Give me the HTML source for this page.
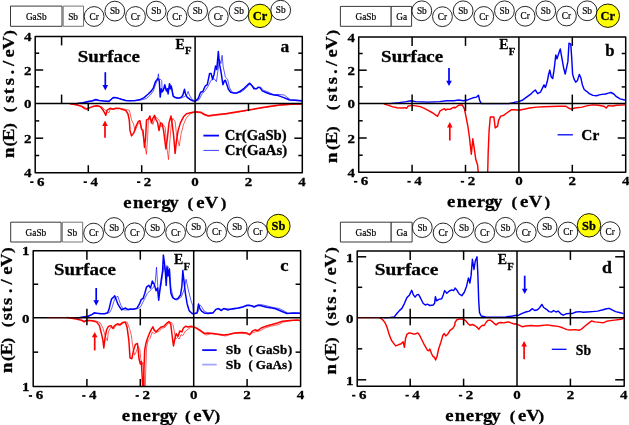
<!DOCTYPE html>
<html><head><meta charset="utf-8"><title>DOS</title>
<style>
html,body{margin:0;padding:0;background:#fff;}
body{width:629px;height:425px;overflow:hidden;font-family:"Liberation Serif",serif;}
svg{display:block;will-change:transform;}
</style></head><body>
<svg width="629" height="425" viewBox="0 0 629 425" font-family="Liberation Serif, serif" stroke-linejoin="round">
<clipPath id="clipa"><rect x="35.2" y="36.4" width="267.1" height="136.29999999999998"/></clipPath>
<g clip-path="url(#clipa)">
<path d="M77.5 103.5 L82.7 102.8 L88.0 101.6 L92.4 100.7 L95.9 99.5 L99.3 100.4 L103.7 101.1 L109.0 101.4 L111.6 99.0 L113.3 97.6 L117.7 98.1 L121.2 99.3 L125.6 100.4 L130.0 100.7 L135.2 100.4 L139.6 99.7 L140.0 99.7 L144.1 97.6 L148.3 94.0 L151.4 90.9 L153.4 87.8 L155.5 81.6 L156.8 80.0 L157.8 78.5 L158.6 79.5 L159.3 81.1 L160.2 97.1 L161.2 88.8 L162.2 91.9 L163.3 90.4 L164.8 84.7 L166.4 90.9 L167.4 88.8 L168.1 94.0 L169.5 83.7 L170.5 88.8 L171.0 86.2 L172.1 90.9 L173.1 96.1 L175.2 97.6 L178.3 98.1 L181.4 97.1 L182.9 95.0 L184.5 89.3 L185.5 94.0 L187.1 97.1 L189.7 99.2 L192.8 100.7 L194.3 101.2 L195.3 101.3 L198.3 98.3 L200.6 92.2 L202.8 91.5 L205.1 86.2 L207.3 84.7 L209.6 73.4 L211.1 73.4 L212.6 79.4 L214.1 74.2 L215.6 65.9 L216.8 69.6 L218.3 51.5 L219.4 63.6 L220.9 71.1 L222.9 84.7 L224.4 80.9 L225.4 80.2 L226.9 84.7 L228.4 89.2 L230.7 92.2 L233.7 93.0 L236.7 93.0 L239.8 91.5 L240.0 91.4 L244.1 88.3 L247.8 84.7 L249.8 83.2 L251.9 85.7 L254.0 88.8 L256.6 88.8 L258.1 87.3 L260.2 87.8 L262.3 90.9 L265.9 92.5 L270.0 94.0 L274.2 95.1 L278.3 95.6 L282.4 97.1 L286.6 98.7 L289.7 100.0 L294.9 100.2 L302.1 101.1" fill="none" stroke="#0000ff" stroke-width="1.5" stroke-linejoin="round" stroke-linecap="round"/>
<path d="M77.5 103.5 L88.0 102.1 L95.0 100.4 L102.0 100.7 L109.0 101.1 L112.5 98.1 L115.1 97.2 L119.5 98.6 L126.5 100.7 L135.2 100.7 L139.6 100.2 L140.0 100.2 L146.2 98.7 L150.3 95.0 L153.4 90.9 L155.5 84.7 L157.6 79.5 L158.4 73.8 L159.1 79.5 L160.7 79.5 L161.7 80.6 L162.2 90.9 L163.6 88.8 L165.3 87.8 L166.9 91.9 L168.4 90.9 L170.0 84.7 L171.6 85.7 L173.1 95.0 L175.7 98.1 L179.3 98.7 L182.4 97.6 L185.5 96.1 L187.1 94.0 L188.1 91.4 L189.4 95.0 L191.2 98.1 L193.8 100.4 L194.8 101.2 L195.3 101.3 L199.0 99.8 L202.1 93.8 L205.1 90.7 L208.1 86.2 L211.1 80.2 L214.1 78.7 L216.4 81.7 L217.9 71.1 L219.4 59.1 L220.9 63.6 L222.1 55.3 L223.2 66.6 L225.4 77.2 L227.7 79.4 L229.5 87.7 L232.2 92.2 L235.2 93.4 L239.8 92.2 L240.0 92.5 L244.1 89.9 L248.3 85.7 L250.4 83.7 L253.5 86.3 L255.5 88.8 L258.6 87.3 L260.7 87.3 L263.8 90.4 L268.0 92.0 L273.1 94.5 L279.3 94.5 L284.5 95.1 L287.6 97.6 L290.7 99.7 L302.1 100.4" fill="none" stroke="#0000ff" stroke-width="0.65" stroke-linejoin="round" stroke-linecap="round"/>
<path d="M70.2 103.8 L76.5 104.8 L81.6 106.4 L84.8 108.6 L86.7 109.2 L89.3 107.9 L93.1 106.4 L96.9 105.7 L100.1 106.6 L102.6 109.5 L104.5 112.7 L105.8 115.3 L107.1 110.2 L110.2 108.3 L113.4 109.2 L116.0 108.3 L119.8 108.6 L123.6 109.9 L126.1 110.8 L128.0 114.0 L129.3 120.3 L130.0 130.6 L131.5 135.9 L133.8 132.9 L136.1 126.0 L138.4 121.4 L139.9 120.6 L141.5 129.0 L143.0 130.6 L144.5 147.4 L145.6 138.2 L146.5 119.9 L148.3 119.1 L149.9 116.0 L151.4 122.9 L152.9 118.3 L154.5 115.3 L156.0 119.9 L157.5 122.2 L159.0 130.6 L160.6 122.9 L162.1 123.7 L163.6 130.6 L165.9 148.9 L167.4 138.2 L169.0 122.9 L171.0 116.0 L172.0 122.9 L173.6 135.2 L175.1 153.5 L176.6 139.7 L178.1 130.6 L180.4 122.9 L183.5 116.8 L186.5 113.8 L189.6 113.0 L192.7 112.2 L194.2 112.1 L195.5 111.7 L201.0 112.3 L204.6 114.5 L208.3 115.7 L215.6 114.8 L226.6 113.5 L237.5 111.7 L248.5 109.9 L259.5 108.1 L270.4 106.2 L279.6 104.9 L290.5 104.2 L301.5 104.0" fill="none" stroke="#ff0000" stroke-width="1.5" stroke-linejoin="round" stroke-linecap="round"/>
<path d="M70.2 103.8 L82.9 106.4 L86.1 108.3 L88.6 108.3 L93.1 106.4 L98.2 105.7 L102.0 107.0 L104.5 109.5 L107.7 112.1 L109.0 112.7 L110.2 109.5 L114.7 108.3 L121.0 108.3 L126.1 109.5 L129.3 110.2 L130.0 113.0 L131.5 119.9 L133.1 122.9 L135.3 130.6 L137.6 124.5 L139.9 122.9 L142.2 130.6 L144.5 142.8 L146.4 154.3 L147.6 138.2 L148.3 119.9 L150.6 118.3 L152.9 124.5 L155.2 116.8 L157.5 118.3 L159.8 121.4 L161.3 126.7 L162.9 124.5 L165.2 127.5 L166.7 145.9 L168.5 159.6 L170.0 139.7 L171.3 124.5 L172.8 118.3 L175.1 121.4 L176.6 135.2 L179.2 145.9 L181.2 133.6 L183.5 124.5 L186.5 117.6 L190.4 113.8 L194.2 112.4 L195.5 112.3 L201.0 113.0 L204.6 115.2 L208.3 116.3 L215.6 115.4 L226.6 114.1 L237.5 112.3 L248.5 110.2 L259.5 108.4 L270.4 106.8 L279.6 105.3 L290.5 104.6 L301.5 104.2" fill="none" stroke="#ff0000" stroke-width="0.65" stroke-linejoin="round" stroke-linecap="round"/>
</g>
<clipPath id="clipb"><rect x="358.7" y="36.9" width="267.00000000000006" height="135.4"/></clipPath>
<g clip-path="url(#clipb)">
<path d="M389.5 103.6 L399.1 102.6 L406.2 101.6 L411.0 100.7 L415.8 101.6 L427.7 102.1 L439.6 101.6 L446.8 100.7 L453.9 100.7 L458.7 100.0 L463.5 100.7 L468.2 99.7 L473.0 97.8 L476.6 97.1 L478.5 95.2 L479.7 100.7 L481.4 103.6 L508.8 103.6 L513.6 102.8 L515.0 102.1 L518.6 101.6 L522.2 100.3 L525.9 97.6 L530.4 94.4 L533.1 91.8 L535.3 90.0 L537.7 93.6 L540.4 92.2 L542.2 88.6 L544.0 84.9 L545.4 87.6 L547.3 81.3 L548.5 75.0 L549.8 70.1 L551.2 76.8 L552.7 78.6 L554.0 70.4 L555.8 55.0 L557.0 58.7 L558.5 54.1 L560.3 49.0 L561.8 57.7 L563.6 67.7 L565.2 74.1 L566.6 67.7 L567.9 61.4 L569.0 43.2 L570.8 44.2 L571.7 57.7 L572.6 74.1 L573.9 78.6 L575.7 82.2 L577.5 80.4 L579.3 74.4 L580.8 77.7 L582.4 84.9 L584.2 89.5 L586.6 91.3 L589.3 93.6 L592.9 95.4 L596.6 95.8 L599.3 94.9 L602.0 94.4 L605.6 94.0 L608.3 93.1 L611.0 92.5 L613.8 94.0 L616.5 96.7 L620.1 98.9 L623.7 99.8 L626.3 100.3" fill="none" stroke="#0000ff" stroke-width="1.45" stroke-linejoin="round" stroke-linecap="round"/>
<path d="M384.3 104.0 L388.6 105.4 L392.9 106.9 L397.2 107.7 L401.5 108.0 L405.0 107.7 L406.5 108.3 L407.9 106.3 L411.5 105.4 L415.8 105.9 L420.1 106.6 L424.4 108.3 L428.6 110.6 L432.9 113.0 L435.8 115.2 L437.5 116.3 L438.9 113.5 L440.1 110.9 L443.0 109.4 L444.4 108.7 L445.8 110.2 L447.2 109.2 L450.1 109.4 L453.0 107.7 L454.4 107.2 L455.0 108.0 L458.6 105.2 L462.2 104.9 L464.4 108.9 L465.9 116.1 L468.0 127.0 L469.5 137.9 L471.3 154.2 L472.8 138.8 L474.0 146.9 L475.8 159.6 L477.6 165.0 L478.6 175.9 L487.6 175.9 L488.2 152.3 L489.1 130.6 L490.3 117.0 L493.9 117.0 L495.2 127.9 L497.6 126.1 L498.5 120.6 L500.7 116.1 L503.9 115.2 L507.5 112.5 L511.2 109.8 L514.8 109.8 L515.0 109.8 L518.6 110.3 L524.1 109.2 L529.5 108.0 L536.7 107.1 L544.0 106.7 L551.2 106.5 L558.5 106.3 L565.7 106.2 L568.5 108.0 L571.2 109.2 L574.8 108.0 L582.1 107.1 L587.5 105.6 L592.9 104.9 L598.4 105.2 L603.8 106.2 L606.2 108.0 L608.3 105.6 L612.9 106.0 L616.5 105.2 L625.5 104.9" fill="none" stroke="#ff0000" stroke-width="1.45" stroke-linejoin="round" stroke-linecap="round"/>
</g>
<clipPath id="clipc"><rect x="33.2" y="250.7" width="267.40000000000003" height="135.8"/></clipPath>
<g clip-path="url(#clipc)">
<path d="M77.8 317.9 L82.9 316.9 L88.0 316.2 L91.8 314.6 L94.3 312.8 L96.9 313.3 L100.7 313.7 L104.5 313.7 L107.7 312.8 L109.0 309.3 L110.2 304.2 L111.5 299.1 L113.4 297.2 L114.7 295.9 L116.0 299.1 L117.9 304.2 L119.8 307.3 L121.7 309.9 L123.6 308.6 L125.5 308.0 L127.4 309.3 L129.3 309.5 L130.0 308.9 L133.5 309.3 L137.0 308.1 L139.6 303.7 L141.3 299.4 L143.1 298.5 L144.8 293.3 L146.5 287.2 L148.8 285.4 L150.5 288.0 L152.3 281.1 L154.4 284.6 L156.1 290.7 L157.5 288.0 L158.7 300.2 L159.9 289.8 L161.3 279.3 L162.6 270.6 L163.4 255.0 L164.5 263.7 L165.3 270.6 L166.2 285.4 L167.1 267.2 L168.0 275.9 L169.2 268.9 L170.0 282.8 L170.9 293.3 L172.7 297.6 L175.3 299.4 L177.9 298.5 L180.5 295.0 L181.9 286.3 L182.8 270.6 L184.0 281.1 L185.4 293.3 L187.1 303.7 L189.2 310.7 L191.8 313.3 L193.0 313.8 L193.6 313.8 L197.1 312.9 L198.5 304.0 L199.8 308.5 L201.6 311.1 L204.2 312.9 L207.8 313.5 L213.1 312.9 L215.8 309.4 L218.5 308.5 L221.2 310.6 L223.8 308.5 L227.4 309.9 L232.7 308.8 L238.1 308.1 L243.4 306.7 L247.0 305.3 L251.4 305.8 L254.1 307.0 L257.7 305.3 L261.2 305.8 L264.8 306.7 L268.3 307.6 L271.9 308.1 L275.5 308.8 L279.0 310.2 L282.6 311.7 L287.0 313.5 L293.3 313.1 L299.5 313.3" fill="none" stroke="#0000ff" stroke-width="1.5" stroke-linejoin="round" stroke-linecap="round"/>
<path d="M77.8 317.9 L88.0 316.6 L93.1 313.7 L98.2 313.3 L105.8 313.7 L109.6 312.4 L111.5 309.3 L113.4 302.9 L115.3 297.8 L117.9 296.3 L119.1 300.3 L121.0 305.4 L123.6 309.9 L128.7 309.9 L130.0 309.3 L137.0 308.9 L140.4 307.2 L143.9 300.2 L147.4 293.3 L150.9 289.8 L153.5 287.2 L155.2 282.8 L156.5 267.2 L157.5 282.8 L158.7 295.0 L160.5 288.0 L162.2 277.6 L164.0 265.4 L165.7 274.1 L166.9 265.4 L168.3 267.2 L169.7 268.9 L170.9 288.0 L173.5 298.5 L177.0 300.2 L181.4 296.8 L184.0 289.8 L186.1 279.3 L188.3 289.8 L190.9 300.2 L192.7 305.5 L193.4 312.4 L193.9 313.8 L198.0 312.0 L199.8 304.9 L201.6 306.7 L204.2 311.1 L207.8 312.9 L213.1 312.4 L217.6 308.8 L222.1 309.4 L225.6 308.5 L232.7 309.4 L241.6 307.6 L248.8 304.9 L254.1 306.3 L260.3 304.5 L266.6 305.8 L273.7 307.6 L279.0 308.5 L284.4 311.1 L287.9 313.3 L299.5 312.9" fill="none" stroke="#0000ff" stroke-width="0.65" stroke-linejoin="round" stroke-linecap="round"/>
<path d="M67.2 317.6 L76.1 319.0 L81.5 320.3 L84.2 321.5 L86.8 320.3 L92.2 320.8 L96.7 322.1 L99.4 325.6 L101.5 333.7 L103.0 340.8 L103.8 348.0 L105.1 337.3 L106.5 330.1 L108.3 326.5 L111.0 325.6 L112.8 328.3 L114.6 325.6 L117.3 323.8 L120.0 324.7 L122.6 322.6 L125.3 322.1 L127.1 327.4 L128.9 340.8 L130.0 357.9 L131.8 358.8 L133.6 349.8 L135.4 344.4 L137.5 343.5 L139.0 358.8 L140.4 364.1 L141.3 361.4 L142.2 376.7 L142.9 391.0 L143.4 391.0 L144.0 367.7 L144.7 349.8 L146.1 342.6 L147.9 337.3 L149.7 332.8 L151.5 329.2 L152.9 326.9 L154.2 330.1 L156.0 331.9 L158.6 329.2 L161.3 326.9 L164.0 326.2 L166.7 323.3 L169.0 321.5 L170.8 324.7 L172.1 335.5 L173.5 345.9 L174.8 339.1 L176.2 333.7 L178.0 336.4 L179.8 331.0 L181.9 331.9 L183.3 328.3 L185.5 326.2 L188.2 326.9 L190.9 326.2 L192.7 326.7 L193.6 326.6 L197.1 328.4 L200.7 330.7 L204.2 333.4 L207.8 333.0 L213.1 333.4 L218.5 334.3 L223.8 335.1 L229.2 334.3 L234.5 333.0 L241.6 332.5 L247.0 333.0 L249.7 334.8 L252.3 331.2 L255.0 329.8 L257.7 330.7 L261.2 328.0 L266.6 325.9 L271.9 324.5 L277.3 323.0 L282.6 321.3 L289.7 320.5 L296.8 320.0 L299.5 320.5" fill="none" stroke="#ff0000" stroke-width="1.5" stroke-linejoin="round" stroke-linecap="round"/>
<path d="M81.5 319.9 L83.8 322.6 L86.0 320.8 L95.8 320.8 L100.3 322.9 L103.0 328.3 L105.6 337.3 L107.4 340.8 L108.3 331.9 L111.0 326.9 L113.7 329.2 L116.4 324.7 L120.0 325.6 L123.5 322.9 L127.1 322.1 L129.4 328.3 L130.0 330.1 L131.4 335.5 L132.7 346.2 L134.5 355.2 L136.3 351.6 L138.1 346.2 L139.8 349.8 L141.6 365.9 L142.9 362.3 L144.3 382.0 L145.2 391.0 L145.8 367.7 L146.5 348.0 L147.9 340.9 L150.1 338.2 L152.4 331.9 L154.2 333.7 L156.9 331.9 L159.5 331.0 L161.9 328.3 L164.9 327.4 L168.5 323.0 L171.2 322.1 L173.0 324.7 L174.4 331.9 L175.6 339.1 L177.4 337.3 L179.2 339.1 L181.0 334.6 L182.8 335.5 L185.5 331.0 L188.2 329.2 L190.9 327.4 L192.7 326.7 L193.6 327.7 L195.3 328.0 L200.7 331.6 L206.0 335.1 L211.4 333.7 L218.5 334.8 L225.6 336.0 L232.7 333.7 L241.6 333.0 L248.8 334.3 L251.4 333.4 L255.9 331.6 L260.3 330.7 L264.8 328.0 L271.9 325.9 L279.0 324.5 L282.6 322.3 L289.7 320.9 L299.5 320.0" fill="none" stroke="#ff0000" stroke-width="0.65" stroke-linejoin="round" stroke-linecap="round"/>
</g>
<clipPath id="clipd"><rect x="357.2" y="250.9" width="267.00000000000006" height="135.29999999999998"/></clipPath>
<g clip-path="url(#clipd)">
<path d="M385.0 317.7 L390.1 317.4 L394.3 316.9 L396.9 313.5 L399.4 310.6 L401.9 308.4 L404.5 303.3 L407.0 297.4 L409.5 294.9 L411.7 290.3 L413.4 294.9 L415.1 297.1 L416.8 294.9 L418.5 294.4 L420.6 298.2 L423.1 303.3 L425.3 305.0 L427.3 304.2 L429.9 305.5 L433.2 305.0 L434.6 303.3 L435.4 296.6 L436.6 300.8 L438.8 299.4 L441.7 298.8 L443.4 294.4 L444.6 290.6 L446.8 293.2 L449.3 291.0 L451.9 289.8 L453.6 290.6 L454.9 288.6 L455.0 288.1 L456.7 289.8 L459.2 294.0 L461.8 295.7 L464.3 292.3 L466.5 286.4 L468.5 277.9 L469.9 283.0 L471.1 275.4 L472.4 259.3 L474.0 269.5 L475.3 261.0 L477.0 256.8 L477.9 275.4 L478.7 300.8 L479.5 312.6 L481.2 316.0 L485.5 317.0 L497.3 317.2 L505.8 316.9 L512.6 316.0 L515.1 315.5 L518.6 315.2 L522.2 313.4 L525.8 312.0 L529.4 311.1 L532.1 308.7 L534.8 310.5 L537.5 309.8 L539.8 307.5 L541.9 304.4 L543.7 307.5 L546.4 309.3 L549.1 311.6 L551.8 312.0 L553.6 310.5 L556.0 312.0 L558.1 311.1 L560.8 313.8 L563.1 315.2 L566.2 313.8 L569.8 313.4 L572.5 313.4 L576.1 312.0 L579.7 311.6 L583.3 312.3 L586.9 312.0 L592.3 311.6 L597.6 311.1 L603.0 309.8 L606.6 308.7 L609.3 308.4 L612.0 309.8 L615.6 311.6 L619.2 312.5 L622.8 313.4" fill="none" stroke="#0000ff" stroke-width="1.45" stroke-linejoin="round" stroke-linecap="round"/>
<path d="M379.8 317.8 L382.5 319.5 L385.0 322.6 L387.1 327.5 L389.2 334.6 L391.4 340.2 L393.5 343.1 L395.6 345.9 L398.4 344.8 L401.2 343.8 L403.1 341.7 L404.4 347.3 L405.5 338.8 L406.9 334.3 L409.0 332.9 L411.1 333.2 L413.2 333.9 L415.4 333.9 L417.8 332.9 L419.6 335.3 L421.7 339.5 L424.5 345.2 L427.4 350.1 L428.8 350.8 L429.9 349.0 L431.6 353.7 L433.0 356.5 L434.4 357.2 L435.6 360.0 L437.0 356.5 L438.7 348.7 L440.8 342.4 L442.9 335.3 L444.3 333.5 L445.7 336.0 L447.9 333.9 L450.0 330.4 L452.1 328.9 L453.5 327.5 L454.9 324.7 L455.0 322.5 L456.8 319.8 L459.8 318.9 L463.3 319.3 L465.7 320.7 L468.1 323.7 L469.9 325.3 L472.3 324.5 L474.7 325.5 L477.1 327.3 L478.8 329.3 L480.6 326.7 L482.4 325.3 L484.2 325.5 L486.0 322.5 L487.8 320.5 L490.2 320.1 L492.0 321.3 L493.8 323.1 L496.1 324.9 L498.5 322.9 L500.9 322.5 L503.9 322.9 L506.3 322.2 L508.7 321.9 L511.0 322.9 L513.4 323.7 L514.6 324.0 L515.0 323.7 L518.6 324.9 L522.2 326.7 L525.8 326.0 L531.2 325.5 L536.6 326.0 L541.9 325.5 L547.3 324.9 L552.7 325.7 L558.1 326.4 L562.6 327.8 L567.1 329.6 L570.7 330.0 L575.2 329.6 L578.8 330.3 L581.5 329.1 L585.1 326.0 L588.7 323.1 L591.4 321.0 L594.9 321.9 L599.4 322.4 L603.0 322.8 L606.6 321.3 L610.2 320.6 L614.7 320.1 L619.2 319.5 L622.8 318.8" fill="none" stroke="#ff0000" stroke-width="1.45" stroke-linejoin="round" stroke-linecap="round"/>
</g>
<rect x="35.20" y="36.40" width="267.10" height="136.30" fill="none" stroke="#000" stroke-width="1.5"/>
<line x1="35.20" y1="103.60" x2="302.30" y2="103.60" stroke="#000" stroke-width="1.5"/>
<line x1="195.10" y1="36.40" x2="195.10" y2="172.70" stroke="#000" stroke-width="1.5"/>
<line x1="88.30" y1="172.70" x2="88.30" y2="165.20" stroke="#000" stroke-width="1.5"/>
<line x1="88.30" y1="103.60" x2="88.30" y2="111.10" stroke="#000" stroke-width="1.5"/>
<line x1="141.70" y1="172.70" x2="141.70" y2="165.20" stroke="#000" stroke-width="1.5"/>
<line x1="141.70" y1="103.60" x2="141.70" y2="111.10" stroke="#000" stroke-width="1.5"/>
<line x1="248.50" y1="172.70" x2="248.50" y2="165.20" stroke="#000" stroke-width="1.5"/>
<line x1="248.50" y1="103.60" x2="248.50" y2="111.10" stroke="#000" stroke-width="1.5"/>
<line x1="61.60" y1="36.40" x2="61.60" y2="45.40" stroke="#000" stroke-width="1.5"/>
<line x1="61.60" y1="103.60" x2="61.60" y2="94.60" stroke="#000" stroke-width="1.5"/>
<line x1="35.20" y1="86.80" x2="39.20" y2="86.80" stroke="#000" stroke-width="1.5"/>
<line x1="302.30" y1="86.80" x2="298.30" y2="86.80" stroke="#000" stroke-width="1.5"/>
<line x1="35.20" y1="120.90" x2="39.20" y2="120.90" stroke="#000" stroke-width="1.5"/>
<line x1="302.30" y1="120.90" x2="298.30" y2="120.90" stroke="#000" stroke-width="1.5"/>
<line x1="35.20" y1="70.00" x2="43.20" y2="70.00" stroke="#000" stroke-width="1.5"/>
<line x1="302.30" y1="70.00" x2="294.30" y2="70.00" stroke="#000" stroke-width="1.5"/>
<line x1="35.20" y1="138.20" x2="43.20" y2="138.20" stroke="#000" stroke-width="1.5"/>
<line x1="302.30" y1="138.20" x2="294.30" y2="138.20" stroke="#000" stroke-width="1.5"/>
<line x1="35.20" y1="53.20" x2="39.20" y2="53.20" stroke="#000" stroke-width="1.5"/>
<line x1="302.30" y1="53.20" x2="298.30" y2="53.20" stroke="#000" stroke-width="1.5"/>
<line x1="35.20" y1="155.50" x2="39.20" y2="155.50" stroke="#000" stroke-width="1.5"/>
<line x1="302.30" y1="155.50" x2="298.30" y2="155.50" stroke="#000" stroke-width="1.5"/>
<text transform="translate(40.80,185.60) scale(1.12,1)" font-size="13.4" font-weight="bold" text-anchor="middle" stroke="#000" stroke-width="0.3">6</text>
<rect x="30.20" y="181.30" width="3.3" height="1.7" fill="#000"/>
<text transform="translate(94.20,185.60) scale(1.12,1)" font-size="13.4" font-weight="bold" text-anchor="middle" stroke="#000" stroke-width="0.3">4</text>
<rect x="83.60" y="181.30" width="3.3" height="1.7" fill="#000"/>
<text transform="translate(147.60,185.60) scale(1.12,1)" font-size="13.4" font-weight="bold" text-anchor="middle" stroke="#000" stroke-width="0.3">2</text>
<rect x="137.00" y="181.30" width="3.3" height="1.7" fill="#000"/>
<text transform="translate(195.10,185.60) scale(1.12,1)" font-size="13.4" font-weight="bold" text-anchor="middle" stroke="#000" stroke-width="0.3">0</text>
<text transform="translate(248.50,185.60) scale(1.12,1)" font-size="13.4" font-weight="bold" text-anchor="middle" stroke="#000" stroke-width="0.3">2</text>
<text transform="translate(301.90,185.60) scale(1.12,1)" font-size="13.4" font-weight="bold" text-anchor="middle" stroke="#000" stroke-width="0.3">4</text>
<text transform="translate(27.70,41.10) scale(1.12,1)" font-size="13.4" font-weight="bold" text-anchor="middle" stroke="#000" stroke-width="0.3">4</text>
<text transform="translate(27.70,74.70) scale(1.12,1)" font-size="13.4" font-weight="bold" text-anchor="middle" stroke="#000" stroke-width="0.3">2</text>
<text transform="translate(27.70,108.30) scale(1.12,1)" font-size="13.4" font-weight="bold" text-anchor="middle" stroke="#000" stroke-width="0.3">0</text>
<text transform="translate(27.70,142.90) scale(1.12,1)" font-size="13.4" font-weight="bold" text-anchor="middle" stroke="#000" stroke-width="0.3">2</text>
<text transform="translate(27.70,177.40) scale(1.12,1)" font-size="13.4" font-weight="bold" text-anchor="middle" stroke="#000" stroke-width="0.3">4</text>
<text transform="translate(127.40,207.60) scale(1.1,1)" font-size="17.0" font-weight="bold" text-anchor="middle" stroke="#000" stroke-width="0.3">e</text>
<text transform="translate(138.10,207.60) scale(1.1,1)" font-size="17.0" font-weight="bold" text-anchor="middle" stroke="#000" stroke-width="0.3">n</text>
<text transform="translate(148.10,207.60) scale(1.1,1)" font-size="17.0" font-weight="bold" text-anchor="middle" stroke="#000" stroke-width="0.3">e</text>
<text transform="translate(157.00,207.60) scale(1.1,1)" font-size="17.0" font-weight="bold" text-anchor="middle" stroke="#000" stroke-width="0.3">r</text>
<text transform="translate(165.90,207.60) scale(1.1,1)" font-size="17.0" font-weight="bold" text-anchor="middle" stroke="#000" stroke-width="0.3">g</text>
<text transform="translate(174.00,207.60) scale(1.1,1)" font-size="17.0" font-weight="bold" text-anchor="middle" stroke="#000" stroke-width="0.3">y</text>
<text transform="translate(190.40,207.60) scale(1.1,1)" font-size="15.4" font-weight="bold" text-anchor="middle" stroke="#000" stroke-width="0.3">(</text>
<text transform="translate(200.40,207.60) scale(1.1,1)" font-size="17.0" font-weight="bold" text-anchor="middle" stroke="#000" stroke-width="0.3">e</text>
<text transform="translate(211.60,207.60) scale(1.1,1)" font-size="17.0" font-weight="bold" text-anchor="middle" stroke="#000" stroke-width="0.3">V</text>
<text transform="translate(223.60,207.60) scale(1.1,1)" font-size="15.4" font-weight="bold" text-anchor="middle" stroke="#000" stroke-width="0.3">)</text>
<text transform="translate(13.90,152.90) rotate(-90) scale(1.1,1)" font-size="17.0" font-weight="bold" text-anchor="middle" stroke="#000" stroke-width="0.3">n</text>
<text transform="translate(13.90,143.70) rotate(-90) scale(1.1,1)" font-size="15.4" font-weight="bold" text-anchor="middle" stroke="#000" stroke-width="0.3">(</text>
<text transform="translate(13.90,134.70) rotate(-90) scale(1.1,1)" font-size="17.0" font-weight="bold" text-anchor="middle" stroke="#000" stroke-width="0.3">E</text>
<text transform="translate(13.90,126.00) rotate(-90) scale(1.1,1)" font-size="15.4" font-weight="bold" text-anchor="middle" stroke="#000" stroke-width="0.3">)</text>
<text transform="translate(13.90,109.50) rotate(-90) scale(1.1,1)" font-size="15.4" font-weight="bold" text-anchor="middle" stroke="#000" stroke-width="0.3">(</text>
<text transform="translate(13.90,99.20) rotate(-90) scale(1.1,1)" font-size="17.0" font-weight="bold" text-anchor="middle" stroke="#000" stroke-width="0.3">s</text>
<text transform="translate(13.90,91.20) rotate(-90) scale(1.1,1)" font-size="17.0" font-weight="bold" text-anchor="middle" stroke="#000" stroke-width="0.3">t</text>
<text transform="translate(13.90,81.50) rotate(-90) scale(1.1,1)" font-size="17.0" font-weight="bold" text-anchor="middle" stroke="#000" stroke-width="0.3">s</text>
<text transform="translate(13.90,72.10) rotate(-90) scale(1.1,1)" font-size="17.0" font-weight="bold" text-anchor="middle" stroke="#000" stroke-width="0.3">.</text>
<text transform="translate(13.90,63.40) rotate(-90) scale(1.1,1)" font-size="17.0" font-weight="bold" text-anchor="middle" stroke="#000" stroke-width="0.3">/</text>
<text transform="translate(13.90,53.30) rotate(-90) scale(1.1,1)" font-size="17.0" font-weight="bold" text-anchor="middle" stroke="#000" stroke-width="0.3">e</text>
<text transform="translate(13.90,43.00) rotate(-90) scale(1.1,1)" font-size="17.0" font-weight="bold" text-anchor="middle" stroke="#000" stroke-width="0.3">V</text>
<text transform="translate(13.90,33.00) rotate(-90) scale(1.1,1)" font-size="15.4" font-weight="bold" text-anchor="middle" stroke="#000" stroke-width="0.3">)</text>
<rect x="358.70" y="36.90" width="267.00" height="135.40" fill="none" stroke="#000" stroke-width="1.5"/>
<line x1="358.70" y1="103.60" x2="625.70" y2="103.60" stroke="#000" stroke-width="1.5"/>
<line x1="518.90" y1="36.90" x2="518.90" y2="172.30" stroke="#000" stroke-width="1.5"/>
<line x1="412.10" y1="172.30" x2="412.10" y2="164.80" stroke="#000" stroke-width="1.5"/>
<line x1="412.10" y1="103.60" x2="412.10" y2="111.10" stroke="#000" stroke-width="1.5"/>
<line x1="465.50" y1="172.30" x2="465.50" y2="164.80" stroke="#000" stroke-width="1.5"/>
<line x1="465.50" y1="103.60" x2="465.50" y2="111.10" stroke="#000" stroke-width="1.5"/>
<line x1="572.30" y1="172.30" x2="572.30" y2="164.80" stroke="#000" stroke-width="1.5"/>
<line x1="572.30" y1="103.60" x2="572.30" y2="111.10" stroke="#000" stroke-width="1.5"/>
<line x1="412.10" y1="36.90" x2="412.10" y2="45.90" stroke="#000" stroke-width="1.5"/>
<line x1="412.10" y1="103.60" x2="412.10" y2="94.60" stroke="#000" stroke-width="1.5"/>
<line x1="465.50" y1="36.90" x2="465.50" y2="45.90" stroke="#000" stroke-width="1.5"/>
<line x1="465.50" y1="103.60" x2="465.50" y2="94.60" stroke="#000" stroke-width="1.5"/>
<line x1="572.30" y1="36.90" x2="572.30" y2="45.90" stroke="#000" stroke-width="1.5"/>
<line x1="572.30" y1="103.60" x2="572.30" y2="94.60" stroke="#000" stroke-width="1.5"/>
<line x1="358.70" y1="86.90" x2="362.70" y2="86.90" stroke="#000" stroke-width="1.5"/>
<line x1="625.70" y1="86.90" x2="621.70" y2="86.90" stroke="#000" stroke-width="1.5"/>
<line x1="358.70" y1="120.80" x2="362.70" y2="120.80" stroke="#000" stroke-width="1.5"/>
<line x1="625.70" y1="120.80" x2="621.70" y2="120.80" stroke="#000" stroke-width="1.5"/>
<line x1="358.70" y1="70.20" x2="366.70" y2="70.20" stroke="#000" stroke-width="1.5"/>
<line x1="625.70" y1="70.20" x2="617.70" y2="70.20" stroke="#000" stroke-width="1.5"/>
<line x1="358.70" y1="138.00" x2="366.70" y2="138.00" stroke="#000" stroke-width="1.5"/>
<line x1="625.70" y1="138.00" x2="617.70" y2="138.00" stroke="#000" stroke-width="1.5"/>
<line x1="358.70" y1="53.50" x2="362.70" y2="53.50" stroke="#000" stroke-width="1.5"/>
<line x1="625.70" y1="53.50" x2="621.70" y2="53.50" stroke="#000" stroke-width="1.5"/>
<line x1="358.70" y1="155.20" x2="362.70" y2="155.20" stroke="#000" stroke-width="1.5"/>
<line x1="625.70" y1="155.20" x2="621.70" y2="155.20" stroke="#000" stroke-width="1.5"/>
<text transform="translate(364.60,185.20) scale(1.12,1)" font-size="13.4" font-weight="bold" text-anchor="middle" stroke="#000" stroke-width="0.3">6</text>
<rect x="354.00" y="180.90" width="3.3" height="1.7" fill="#000"/>
<text transform="translate(418.00,185.20) scale(1.12,1)" font-size="13.4" font-weight="bold" text-anchor="middle" stroke="#000" stroke-width="0.3">4</text>
<rect x="407.40" y="180.90" width="3.3" height="1.7" fill="#000"/>
<text transform="translate(471.40,185.20) scale(1.12,1)" font-size="13.4" font-weight="bold" text-anchor="middle" stroke="#000" stroke-width="0.3">2</text>
<rect x="460.80" y="180.90" width="3.3" height="1.7" fill="#000"/>
<text transform="translate(518.90,185.20) scale(1.12,1)" font-size="13.4" font-weight="bold" text-anchor="middle" stroke="#000" stroke-width="0.3">0</text>
<text transform="translate(572.30,185.20) scale(1.12,1)" font-size="13.4" font-weight="bold" text-anchor="middle" stroke="#000" stroke-width="0.3">2</text>
<text transform="translate(625.70,185.20) scale(1.12,1)" font-size="13.4" font-weight="bold" text-anchor="middle" stroke="#000" stroke-width="0.3">4</text>
<text transform="translate(351.20,41.60) scale(1.12,1)" font-size="13.4" font-weight="bold" text-anchor="middle" stroke="#000" stroke-width="0.3">4</text>
<text transform="translate(351.20,74.90) scale(1.12,1)" font-size="13.4" font-weight="bold" text-anchor="middle" stroke="#000" stroke-width="0.3">2</text>
<text transform="translate(351.20,108.30) scale(1.12,1)" font-size="13.4" font-weight="bold" text-anchor="middle" stroke="#000" stroke-width="0.3">0</text>
<text transform="translate(351.20,142.70) scale(1.12,1)" font-size="13.4" font-weight="bold" text-anchor="middle" stroke="#000" stroke-width="0.3">2</text>
<text transform="translate(351.20,177.00) scale(1.12,1)" font-size="13.4" font-weight="bold" text-anchor="middle" stroke="#000" stroke-width="0.3">4</text>
<text transform="translate(451.20,207.20) scale(1.1,1)" font-size="17.0" font-weight="bold" text-anchor="middle" stroke="#000" stroke-width="0.3">e</text>
<text transform="translate(461.90,207.20) scale(1.1,1)" font-size="17.0" font-weight="bold" text-anchor="middle" stroke="#000" stroke-width="0.3">n</text>
<text transform="translate(471.90,207.20) scale(1.1,1)" font-size="17.0" font-weight="bold" text-anchor="middle" stroke="#000" stroke-width="0.3">e</text>
<text transform="translate(480.80,207.20) scale(1.1,1)" font-size="17.0" font-weight="bold" text-anchor="middle" stroke="#000" stroke-width="0.3">r</text>
<text transform="translate(489.70,207.20) scale(1.1,1)" font-size="17.0" font-weight="bold" text-anchor="middle" stroke="#000" stroke-width="0.3">g</text>
<text transform="translate(497.80,207.20) scale(1.1,1)" font-size="17.0" font-weight="bold" text-anchor="middle" stroke="#000" stroke-width="0.3">y</text>
<text transform="translate(514.20,207.20) scale(1.1,1)" font-size="15.4" font-weight="bold" text-anchor="middle" stroke="#000" stroke-width="0.3">(</text>
<text transform="translate(524.20,207.20) scale(1.1,1)" font-size="17.0" font-weight="bold" text-anchor="middle" stroke="#000" stroke-width="0.3">e</text>
<text transform="translate(535.40,207.20) scale(1.1,1)" font-size="17.0" font-weight="bold" text-anchor="middle" stroke="#000" stroke-width="0.3">V</text>
<text transform="translate(547.40,207.20) scale(1.1,1)" font-size="15.4" font-weight="bold" text-anchor="middle" stroke="#000" stroke-width="0.3">)</text>
<text transform="translate(337.40,157.70) rotate(-90) scale(1.1,1)" font-size="17.0" font-weight="bold" text-anchor="middle" stroke="#000" stroke-width="0.3">n</text>
<text transform="translate(337.40,147.20) rotate(-90) scale(1.1,1)" font-size="15.4" font-weight="bold" text-anchor="middle" stroke="#000" stroke-width="0.3">(</text>
<text transform="translate(337.40,137.90) rotate(-90) scale(1.1,1)" font-size="17.0" font-weight="bold" text-anchor="middle" stroke="#000" stroke-width="0.3">E</text>
<text transform="translate(337.40,129.30) rotate(-90) scale(1.1,1)" font-size="15.4" font-weight="bold" text-anchor="middle" stroke="#000" stroke-width="0.3">)</text>
<text transform="translate(337.40,107.50) rotate(-90) scale(1.1,1)" font-size="15.4" font-weight="bold" text-anchor="middle" stroke="#000" stroke-width="0.3">(</text>
<text transform="translate(337.40,97.80) rotate(-90) scale(1.1,1)" font-size="17.0" font-weight="bold" text-anchor="middle" stroke="#000" stroke-width="0.3">s</text>
<text transform="translate(337.40,89.80) rotate(-90) scale(1.1,1)" font-size="17.0" font-weight="bold" text-anchor="middle" stroke="#000" stroke-width="0.3">t</text>
<text transform="translate(337.40,80.70) rotate(-90) scale(1.1,1)" font-size="17.0" font-weight="bold" text-anchor="middle" stroke="#000" stroke-width="0.3">s</text>
<text transform="translate(337.40,71.70) rotate(-90) scale(1.1,1)" font-size="17.0" font-weight="bold" text-anchor="middle" stroke="#000" stroke-width="0.3">.</text>
<text transform="translate(337.40,63.40) rotate(-90) scale(1.1,1)" font-size="17.0" font-weight="bold" text-anchor="middle" stroke="#000" stroke-width="0.3">/</text>
<text transform="translate(337.40,53.30) rotate(-90) scale(1.1,1)" font-size="17.0" font-weight="bold" text-anchor="middle" stroke="#000" stroke-width="0.3">e</text>
<text transform="translate(337.40,43.00) rotate(-90) scale(1.1,1)" font-size="17.0" font-weight="bold" text-anchor="middle" stroke="#000" stroke-width="0.3">V</text>
<text transform="translate(337.40,32.70) rotate(-90) scale(1.1,1)" font-size="15.4" font-weight="bold" text-anchor="middle" stroke="#000" stroke-width="0.3">)</text>
<rect x="33.20" y="250.70" width="267.40" height="135.80" fill="none" stroke="#000" stroke-width="1.5"/>
<line x1="33.20" y1="317.80" x2="300.60" y2="317.80" stroke="#000" stroke-width="1.5"/>
<line x1="193.70" y1="250.70" x2="193.70" y2="386.50" stroke="#000" stroke-width="1.5"/>
<line x1="86.90" y1="386.50" x2="86.90" y2="379.00" stroke="#000" stroke-width="1.5"/>
<line x1="86.90" y1="317.80" x2="86.90" y2="325.30" stroke="#000" stroke-width="1.5"/>
<line x1="140.30" y1="386.50" x2="140.30" y2="379.00" stroke="#000" stroke-width="1.5"/>
<line x1="140.30" y1="317.80" x2="140.30" y2="325.30" stroke="#000" stroke-width="1.5"/>
<line x1="247.10" y1="386.50" x2="247.10" y2="379.00" stroke="#000" stroke-width="1.5"/>
<line x1="247.10" y1="317.80" x2="247.10" y2="325.30" stroke="#000" stroke-width="1.5"/>
<line x1="86.90" y1="250.70" x2="86.90" y2="259.70" stroke="#000" stroke-width="1.5"/>
<line x1="86.90" y1="317.80" x2="86.90" y2="308.80" stroke="#000" stroke-width="1.5"/>
<line x1="140.30" y1="250.70" x2="140.30" y2="259.70" stroke="#000" stroke-width="1.5"/>
<line x1="140.30" y1="317.80" x2="140.30" y2="308.80" stroke="#000" stroke-width="1.5"/>
<line x1="247.10" y1="250.70" x2="247.10" y2="259.70" stroke="#000" stroke-width="1.5"/>
<line x1="247.10" y1="317.80" x2="247.10" y2="308.80" stroke="#000" stroke-width="1.5"/>
<line x1="33.20" y1="284.25" x2="38.20" y2="284.25" stroke="#000" stroke-width="1.5"/>
<line x1="300.60" y1="284.25" x2="295.60" y2="284.25" stroke="#000" stroke-width="1.5"/>
<line x1="33.20" y1="352.15" x2="38.20" y2="352.15" stroke="#000" stroke-width="1.5"/>
<line x1="300.60" y1="352.15" x2="295.60" y2="352.15" stroke="#000" stroke-width="1.5"/>
<text transform="translate(39.40,399.40) scale(1.12,1)" font-size="13.4" font-weight="bold" text-anchor="middle" stroke="#000" stroke-width="0.3">6</text>
<rect x="28.80" y="395.10" width="3.3" height="1.7" fill="#000"/>
<text transform="translate(92.80,399.40) scale(1.12,1)" font-size="13.4" font-weight="bold" text-anchor="middle" stroke="#000" stroke-width="0.3">4</text>
<rect x="82.20" y="395.10" width="3.3" height="1.7" fill="#000"/>
<text transform="translate(146.20,399.40) scale(1.12,1)" font-size="13.4" font-weight="bold" text-anchor="middle" stroke="#000" stroke-width="0.3">2</text>
<rect x="135.60" y="395.10" width="3.3" height="1.7" fill="#000"/>
<text transform="translate(193.70,399.40) scale(1.12,1)" font-size="13.4" font-weight="bold" text-anchor="middle" stroke="#000" stroke-width="0.3">0</text>
<text transform="translate(247.10,399.40) scale(1.12,1)" font-size="13.4" font-weight="bold" text-anchor="middle" stroke="#000" stroke-width="0.3">2</text>
<text transform="translate(300.50,399.40) scale(1.12,1)" font-size="13.4" font-weight="bold" text-anchor="middle" stroke="#000" stroke-width="0.3">4</text>
<text transform="translate(25.70,255.40) scale(1.12,1)" font-size="13.4" font-weight="bold" text-anchor="middle" stroke="#000" stroke-width="0.3">1</text>
<text transform="translate(25.70,322.50) scale(1.12,1)" font-size="13.4" font-weight="bold" text-anchor="middle" stroke="#000" stroke-width="0.3">0</text>
<text transform="translate(25.70,391.20) scale(1.12,1)" font-size="13.4" font-weight="bold" text-anchor="middle" stroke="#000" stroke-width="0.3">1</text>
<text transform="translate(126.00,421.40) scale(1.1,1)" font-size="17.0" font-weight="bold" text-anchor="middle" stroke="#000" stroke-width="0.3">e</text>
<text transform="translate(136.70,421.40) scale(1.1,1)" font-size="17.0" font-weight="bold" text-anchor="middle" stroke="#000" stroke-width="0.3">n</text>
<text transform="translate(146.70,421.40) scale(1.1,1)" font-size="17.0" font-weight="bold" text-anchor="middle" stroke="#000" stroke-width="0.3">e</text>
<text transform="translate(155.60,421.40) scale(1.1,1)" font-size="17.0" font-weight="bold" text-anchor="middle" stroke="#000" stroke-width="0.3">r</text>
<text transform="translate(164.50,421.40) scale(1.1,1)" font-size="17.0" font-weight="bold" text-anchor="middle" stroke="#000" stroke-width="0.3">g</text>
<text transform="translate(172.60,421.40) scale(1.1,1)" font-size="17.0" font-weight="bold" text-anchor="middle" stroke="#000" stroke-width="0.3">y</text>
<text transform="translate(187.70,421.40) scale(1.1,1)" font-size="15.4" font-weight="bold" text-anchor="middle" stroke="#000" stroke-width="0.3">(</text>
<text transform="translate(197.40,421.40) scale(1.1,1)" font-size="17.0" font-weight="bold" text-anchor="middle" stroke="#000" stroke-width="0.3">e</text>
<text transform="translate(208.60,421.40) scale(1.1,1)" font-size="17.0" font-weight="bold" text-anchor="middle" stroke="#000" stroke-width="0.3">V</text>
<text transform="translate(217.40,421.40) scale(1.1,1)" font-size="15.4" font-weight="bold" text-anchor="middle" stroke="#000" stroke-width="0.3">)</text>
<text transform="translate(11.90,367.80) rotate(-90) scale(1.1,1)" font-size="17.0" font-weight="bold" text-anchor="middle" stroke="#000" stroke-width="0.3">n</text>
<text transform="translate(11.90,358.30) rotate(-90) scale(1.1,1)" font-size="15.4" font-weight="bold" text-anchor="middle" stroke="#000" stroke-width="0.3">(</text>
<text transform="translate(11.90,349.30) rotate(-90) scale(1.1,1)" font-size="17.0" font-weight="bold" text-anchor="middle" stroke="#000" stroke-width="0.3">E</text>
<text transform="translate(11.90,340.80) rotate(-90) scale(1.1,1)" font-size="15.4" font-weight="bold" text-anchor="middle" stroke="#000" stroke-width="0.3">)</text>
<text transform="translate(11.90,324.40) rotate(-90) scale(1.1,1)" font-size="15.4" font-weight="bold" text-anchor="middle" stroke="#000" stroke-width="0.3">(</text>
<text transform="translate(11.90,316.70) rotate(-90) scale(1.1,1)" font-size="17.0" font-weight="bold" text-anchor="middle" stroke="#000" stroke-width="0.3">s</text>
<text transform="translate(11.90,309.50) rotate(-90) scale(1.1,1)" font-size="17.0" font-weight="bold" text-anchor="middle" stroke="#000" stroke-width="0.3">t</text>
<text transform="translate(11.90,301.30) rotate(-90) scale(1.1,1)" font-size="17.0" font-weight="bold" text-anchor="middle" stroke="#000" stroke-width="0.3">s</text>
<text transform="translate(11.90,291.00) rotate(-90) scale(1.1,1)" font-size="17.0" font-weight="bold" text-anchor="middle" stroke="#000" stroke-width="0.3">.</text>
<text transform="translate(11.90,282.00) rotate(-90) scale(1.1,1)" font-size="17.0" font-weight="bold" text-anchor="middle" stroke="#000" stroke-width="0.3">/</text>
<text transform="translate(11.90,270.60) rotate(-90) scale(1.1,1)" font-size="17.0" font-weight="bold" text-anchor="middle" stroke="#000" stroke-width="0.3">e</text>
<text transform="translate(11.90,260.30) rotate(-90) scale(1.1,1)" font-size="17.0" font-weight="bold" text-anchor="middle" stroke="#000" stroke-width="0.3">V</text>
<text transform="translate(11.90,250.20) rotate(-90) scale(1.1,1)" font-size="15.4" font-weight="bold" text-anchor="middle" stroke="#000" stroke-width="0.3">)</text>
<rect x="357.20" y="250.90" width="267.00" height="135.30" fill="none" stroke="#000" stroke-width="1.5"/>
<line x1="357.20" y1="317.80" x2="624.20" y2="317.80" stroke="#000" stroke-width="1.5"/>
<line x1="517.00" y1="250.90" x2="517.00" y2="386.20" stroke="#000" stroke-width="1.5"/>
<line x1="410.20" y1="386.20" x2="410.20" y2="378.70" stroke="#000" stroke-width="1.5"/>
<line x1="410.20" y1="317.80" x2="410.20" y2="325.30" stroke="#000" stroke-width="1.5"/>
<line x1="463.60" y1="386.20" x2="463.60" y2="378.70" stroke="#000" stroke-width="1.5"/>
<line x1="463.60" y1="317.80" x2="463.60" y2="325.30" stroke="#000" stroke-width="1.5"/>
<line x1="570.40" y1="386.20" x2="570.40" y2="378.70" stroke="#000" stroke-width="1.5"/>
<line x1="570.40" y1="317.80" x2="570.40" y2="325.30" stroke="#000" stroke-width="1.5"/>
<line x1="410.20" y1="250.90" x2="410.20" y2="259.90" stroke="#000" stroke-width="1.5"/>
<line x1="410.20" y1="317.80" x2="410.20" y2="308.80" stroke="#000" stroke-width="1.5"/>
<line x1="463.60" y1="250.90" x2="463.60" y2="259.90" stroke="#000" stroke-width="1.5"/>
<line x1="463.60" y1="317.80" x2="463.60" y2="308.80" stroke="#000" stroke-width="1.5"/>
<line x1="570.40" y1="250.90" x2="570.40" y2="259.90" stroke="#000" stroke-width="1.5"/>
<line x1="570.40" y1="317.80" x2="570.40" y2="308.80" stroke="#000" stroke-width="1.5"/>
<line x1="357.20" y1="287.30" x2="362.20" y2="287.30" stroke="#000" stroke-width="1.5"/>
<line x1="624.20" y1="287.30" x2="619.20" y2="287.30" stroke="#000" stroke-width="1.5"/>
<line x1="357.20" y1="348.80" x2="362.20" y2="348.80" stroke="#000" stroke-width="1.5"/>
<line x1="624.20" y1="348.80" x2="619.20" y2="348.80" stroke="#000" stroke-width="1.5"/>
<line x1="357.20" y1="256.80" x2="366.20" y2="256.80" stroke="#000" stroke-width="1.5"/>
<line x1="624.20" y1="256.80" x2="615.20" y2="256.80" stroke="#000" stroke-width="1.5"/>
<line x1="357.20" y1="379.80" x2="366.20" y2="379.80" stroke="#000" stroke-width="1.5"/>
<line x1="624.20" y1="379.80" x2="615.20" y2="379.80" stroke="#000" stroke-width="1.5"/>
<text transform="translate(362.70,399.10) scale(1.12,1)" font-size="13.4" font-weight="bold" text-anchor="middle" stroke="#000" stroke-width="0.3">6</text>
<rect x="352.10" y="394.80" width="3.3" height="1.7" fill="#000"/>
<text transform="translate(416.10,399.10) scale(1.12,1)" font-size="13.4" font-weight="bold" text-anchor="middle" stroke="#000" stroke-width="0.3">4</text>
<rect x="405.50" y="394.80" width="3.3" height="1.7" fill="#000"/>
<text transform="translate(469.50,399.10) scale(1.12,1)" font-size="13.4" font-weight="bold" text-anchor="middle" stroke="#000" stroke-width="0.3">2</text>
<rect x="458.90" y="394.80" width="3.3" height="1.7" fill="#000"/>
<text transform="translate(517.00,399.10) scale(1.12,1)" font-size="13.4" font-weight="bold" text-anchor="middle" stroke="#000" stroke-width="0.3">0</text>
<text transform="translate(570.40,399.10) scale(1.12,1)" font-size="13.4" font-weight="bold" text-anchor="middle" stroke="#000" stroke-width="0.3">2</text>
<text transform="translate(623.80,399.10) scale(1.12,1)" font-size="13.4" font-weight="bold" text-anchor="middle" stroke="#000" stroke-width="0.3">4</text>
<text transform="translate(349.70,261.50) scale(1.12,1)" font-size="13.4" font-weight="bold" text-anchor="middle" stroke="#000" stroke-width="0.3">1</text>
<text transform="translate(349.70,322.50) scale(1.12,1)" font-size="13.4" font-weight="bold" text-anchor="middle" stroke="#000" stroke-width="0.3">0</text>
<text transform="translate(349.70,384.50) scale(1.12,1)" font-size="13.4" font-weight="bold" text-anchor="middle" stroke="#000" stroke-width="0.3">1</text>
<text transform="translate(449.30,421.10) scale(1.1,1)" font-size="17.0" font-weight="bold" text-anchor="middle" stroke="#000" stroke-width="0.3">e</text>
<text transform="translate(460.00,421.10) scale(1.1,1)" font-size="17.0" font-weight="bold" text-anchor="middle" stroke="#000" stroke-width="0.3">n</text>
<text transform="translate(470.00,421.10) scale(1.1,1)" font-size="17.0" font-weight="bold" text-anchor="middle" stroke="#000" stroke-width="0.3">e</text>
<text transform="translate(478.90,421.10) scale(1.1,1)" font-size="17.0" font-weight="bold" text-anchor="middle" stroke="#000" stroke-width="0.3">r</text>
<text transform="translate(487.80,421.10) scale(1.1,1)" font-size="17.0" font-weight="bold" text-anchor="middle" stroke="#000" stroke-width="0.3">g</text>
<text transform="translate(495.90,421.10) scale(1.1,1)" font-size="17.0" font-weight="bold" text-anchor="middle" stroke="#000" stroke-width="0.3">y</text>
<text transform="translate(512.50,421.10) scale(1.1,1)" font-size="15.4" font-weight="bold" text-anchor="middle" stroke="#000" stroke-width="0.3">(</text>
<text transform="translate(522.10,421.10) scale(1.1,1)" font-size="17.0" font-weight="bold" text-anchor="middle" stroke="#000" stroke-width="0.3">e</text>
<text transform="translate(532.90,421.10) scale(1.1,1)" font-size="17.0" font-weight="bold" text-anchor="middle" stroke="#000" stroke-width="0.3">V</text>
<text transform="translate(541.30,421.10) scale(1.1,1)" font-size="15.4" font-weight="bold" text-anchor="middle" stroke="#000" stroke-width="0.3">)</text>
<text transform="translate(335.90,369.40) rotate(-90) scale(1.1,1)" font-size="17.0" font-weight="bold" text-anchor="middle" stroke="#000" stroke-width="0.3">n</text>
<text transform="translate(335.90,358.70) rotate(-90) scale(1.1,1)" font-size="15.4" font-weight="bold" text-anchor="middle" stroke="#000" stroke-width="0.3">(</text>
<text transform="translate(335.90,349.20) rotate(-90) scale(1.1,1)" font-size="17.0" font-weight="bold" text-anchor="middle" stroke="#000" stroke-width="0.3">E</text>
<text transform="translate(335.90,340.20) rotate(-90) scale(1.1,1)" font-size="15.4" font-weight="bold" text-anchor="middle" stroke="#000" stroke-width="0.3">)</text>
<text transform="translate(335.90,323.50) rotate(-90) scale(1.1,1)" font-size="15.4" font-weight="bold" text-anchor="middle" stroke="#000" stroke-width="0.3">(</text>
<text transform="translate(335.90,315.60) rotate(-90) scale(1.1,1)" font-size="17.0" font-weight="bold" text-anchor="middle" stroke="#000" stroke-width="0.3">s</text>
<text transform="translate(335.90,308.30) rotate(-90) scale(1.1,1)" font-size="17.0" font-weight="bold" text-anchor="middle" stroke="#000" stroke-width="0.3">t</text>
<text transform="translate(335.90,300.10) rotate(-90) scale(1.1,1)" font-size="17.0" font-weight="bold" text-anchor="middle" stroke="#000" stroke-width="0.3">s</text>
<text transform="translate(335.90,290.60) rotate(-90) scale(1.1,1)" font-size="17.0" font-weight="bold" text-anchor="middle" stroke="#000" stroke-width="0.3">.</text>
<text transform="translate(335.90,281.10) rotate(-90) scale(1.1,1)" font-size="17.0" font-weight="bold" text-anchor="middle" stroke="#000" stroke-width="0.3">/</text>
<text transform="translate(335.90,271.40) rotate(-90) scale(1.1,1)" font-size="17.0" font-weight="bold" text-anchor="middle" stroke="#000" stroke-width="0.3">e</text>
<text transform="translate(335.90,260.70) rotate(-90) scale(1.1,1)" font-size="17.0" font-weight="bold" text-anchor="middle" stroke="#000" stroke-width="0.3">V</text>
<text transform="translate(335.90,250.00) rotate(-90) scale(1.1,1)" font-size="15.4" font-weight="bold" text-anchor="middle" stroke="#000" stroke-width="0.3">)</text>
<line x1="47.00" y1="317.80" x2="75.00" y2="317.80" stroke="rgba(255,0,0,0.3)" stroke-width="1.3"/>
<line x1="357.50" y1="317.80" x2="380.00" y2="317.80" stroke="rgba(255,0,0,0.3)" stroke-width="1.3"/>
<rect x="10.50" y="6.10" width="51.50" height="20.20" fill="#fff" stroke="#222" stroke-width="0.9"/>
<rect x="63.20" y="6.10" width="20.30" height="20.20" fill="#fff" stroke="#666" stroke-width="0.9"/>
<text x="36.25" y="20.10" font-size="9.3" font-weight="normal" text-anchor="middle" stroke="#000" stroke-width="0.2">GaSb</text>
<text x="73.05" y="20.10" font-size="9.3" font-weight="normal" text-anchor="middle" stroke="#000" stroke-width="0.2">Sb</text>
<circle cx="94.10" cy="16.50" r="9.9" fill="#fff" stroke="#000" stroke-width="0.85"/>
<text x="94.10" y="19.70" font-size="9.3" font-weight="normal" text-anchor="middle" stroke="#000" stroke-width="0.2">Cr</text>
<circle cx="114.80" cy="11.10" r="9.9" fill="#fff" stroke="#000" stroke-width="0.85"/>
<text x="114.80" y="14.30" font-size="9.3" font-weight="normal" text-anchor="middle" stroke="#000" stroke-width="0.2">Sb</text>
<circle cx="135.50" cy="16.50" r="9.9" fill="#fff" stroke="#000" stroke-width="0.85"/>
<text x="135.50" y="19.70" font-size="9.3" font-weight="normal" text-anchor="middle" stroke="#000" stroke-width="0.2">Cr</text>
<circle cx="156.20" cy="11.10" r="9.9" fill="#fff" stroke="#000" stroke-width="0.85"/>
<text x="156.20" y="14.30" font-size="9.3" font-weight="normal" text-anchor="middle" stroke="#000" stroke-width="0.2">Sb</text>
<circle cx="176.90" cy="16.50" r="9.9" fill="#fff" stroke="#000" stroke-width="0.85"/>
<text x="176.90" y="19.70" font-size="9.3" font-weight="normal" text-anchor="middle" stroke="#000" stroke-width="0.2">Cr</text>
<circle cx="197.60" cy="11.10" r="9.9" fill="#fff" stroke="#000" stroke-width="0.85"/>
<text x="197.60" y="14.30" font-size="9.3" font-weight="normal" text-anchor="middle" stroke="#000" stroke-width="0.2">Sb</text>
<circle cx="218.30" cy="16.50" r="9.9" fill="#fff" stroke="#000" stroke-width="0.85"/>
<text x="218.30" y="19.70" font-size="9.3" font-weight="normal" text-anchor="middle" stroke="#000" stroke-width="0.2">Cr</text>
<circle cx="239.00" cy="11.10" r="9.9" fill="#fff" stroke="#000" stroke-width="0.85"/>
<text x="239.00" y="14.30" font-size="9.3" font-weight="normal" text-anchor="middle" stroke="#000" stroke-width="0.2">Sb</text>
<circle cx="260.00" cy="15.90" r="11.7" fill="#ffff00" stroke="#000" stroke-width="0.9"/>
<text x="260.00" y="20.10" font-size="12.4" font-weight="bold" text-anchor="middle" stroke="#000" stroke-width="0.3">Cr</text>
<circle cx="280.70" cy="10.20" r="9.9" fill="#fff" stroke="#000" stroke-width="0.85"/>
<text x="280.70" y="13.40" font-size="9.3" font-weight="normal" text-anchor="middle" stroke="#000" stroke-width="0.2">Sb</text>
<rect x="340.40" y="6.40" width="50.80" height="19.90" fill="#fff" stroke="#222" stroke-width="0.9"/>
<rect x="391.20" y="6.40" width="20.40" height="19.90" fill="#fff" stroke="#222" stroke-width="0.9"/>
<text x="365.80" y="20.40" font-size="9.3" font-weight="normal" text-anchor="middle" stroke="#000" stroke-width="0.2">GaSb</text>
<text x="401.70" y="20.40" font-size="9.3" font-weight="normal" text-anchor="middle" stroke="#000" stroke-width="0.2">Ga</text>
<circle cx="421.80" cy="10.80" r="9.9" fill="#fff" stroke="#000" stroke-width="0.85"/>
<text x="421.80" y="14.00" font-size="9.3" font-weight="normal" text-anchor="middle" stroke="#000" stroke-width="0.2">Sb</text>
<circle cx="442.46" cy="16.69" r="9.9" fill="#fff" stroke="#000" stroke-width="0.85"/>
<text x="442.46" y="19.89" font-size="9.3" font-weight="normal" text-anchor="middle" stroke="#000" stroke-width="0.2">Cr</text>
<circle cx="463.12" cy="10.80" r="9.9" fill="#fff" stroke="#000" stroke-width="0.85"/>
<text x="463.12" y="14.00" font-size="9.3" font-weight="normal" text-anchor="middle" stroke="#000" stroke-width="0.2">Sb</text>
<circle cx="483.78" cy="16.47" r="9.9" fill="#fff" stroke="#000" stroke-width="0.85"/>
<text x="483.78" y="19.67" font-size="9.3" font-weight="normal" text-anchor="middle" stroke="#000" stroke-width="0.2">Cr</text>
<circle cx="504.44" cy="10.80" r="9.9" fill="#fff" stroke="#000" stroke-width="0.85"/>
<text x="504.44" y="14.00" font-size="9.3" font-weight="normal" text-anchor="middle" stroke="#000" stroke-width="0.2">Sb</text>
<circle cx="525.10" cy="16.25" r="9.9" fill="#fff" stroke="#000" stroke-width="0.85"/>
<text x="525.10" y="19.45" font-size="9.3" font-weight="normal" text-anchor="middle" stroke="#000" stroke-width="0.2">Cr</text>
<circle cx="545.76" cy="10.80" r="9.9" fill="#fff" stroke="#000" stroke-width="0.85"/>
<text x="545.76" y="14.00" font-size="9.3" font-weight="normal" text-anchor="middle" stroke="#000" stroke-width="0.2">Sb</text>
<circle cx="566.42" cy="16.03" r="9.9" fill="#fff" stroke="#000" stroke-width="0.85"/>
<text x="566.42" y="19.23" font-size="9.3" font-weight="normal" text-anchor="middle" stroke="#000" stroke-width="0.2">Cr</text>
<circle cx="587.08" cy="10.80" r="9.9" fill="#fff" stroke="#000" stroke-width="0.85"/>
<text x="587.08" y="14.00" font-size="9.3" font-weight="normal" text-anchor="middle" stroke="#000" stroke-width="0.2">Sb</text>
<circle cx="607.84" cy="15.71" r="11.7" fill="#ffff00" stroke="#000" stroke-width="0.9"/>
<text x="607.84" y="19.91" font-size="12.4" font-weight="bold" text-anchor="middle" stroke="#000" stroke-width="0.3">Cr</text>
<rect x="10.70" y="222.20" width="50.40" height="19.80" fill="#fff" stroke="#222" stroke-width="0.9"/>
<rect x="62.30" y="222.20" width="20.40" height="19.80" fill="#fff" stroke="#666" stroke-width="0.9"/>
<text x="35.90" y="236.20" font-size="9.3" font-weight="normal" text-anchor="middle" stroke="#000" stroke-width="0.2">GaSb</text>
<text x="72.20" y="236.20" font-size="9.3" font-weight="normal" text-anchor="middle" stroke="#000" stroke-width="0.2">Sb</text>
<circle cx="93.60" cy="233.10" r="9.9" fill="#fff" stroke="#000" stroke-width="0.85"/>
<text x="93.60" y="236.30" font-size="9.3" font-weight="normal" text-anchor="middle" stroke="#000" stroke-width="0.2">Cr</text>
<circle cx="114.10" cy="227.53" r="9.9" fill="#fff" stroke="#000" stroke-width="0.85"/>
<text x="114.10" y="230.73" font-size="9.3" font-weight="normal" text-anchor="middle" stroke="#000" stroke-width="0.2">Sb</text>
<circle cx="134.60" cy="232.78" r="9.9" fill="#fff" stroke="#000" stroke-width="0.85"/>
<text x="134.60" y="235.98" font-size="9.3" font-weight="normal" text-anchor="middle" stroke="#000" stroke-width="0.2">Cr</text>
<circle cx="155.10" cy="227.39" r="9.9" fill="#fff" stroke="#000" stroke-width="0.85"/>
<text x="155.10" y="230.59" font-size="9.3" font-weight="normal" text-anchor="middle" stroke="#000" stroke-width="0.2">Sb</text>
<circle cx="175.60" cy="232.46" r="9.9" fill="#fff" stroke="#000" stroke-width="0.85"/>
<text x="175.60" y="235.66" font-size="9.3" font-weight="normal" text-anchor="middle" stroke="#000" stroke-width="0.2">Cr</text>
<circle cx="196.10" cy="227.25" r="9.9" fill="#fff" stroke="#000" stroke-width="0.85"/>
<text x="196.10" y="230.45" font-size="9.3" font-weight="normal" text-anchor="middle" stroke="#000" stroke-width="0.2">Sb</text>
<circle cx="216.60" cy="232.14" r="9.9" fill="#fff" stroke="#000" stroke-width="0.85"/>
<text x="216.60" y="235.34" font-size="9.3" font-weight="normal" text-anchor="middle" stroke="#000" stroke-width="0.2">Cr</text>
<circle cx="237.10" cy="227.11" r="9.9" fill="#fff" stroke="#000" stroke-width="0.85"/>
<text x="237.10" y="230.31" font-size="9.3" font-weight="normal" text-anchor="middle" stroke="#000" stroke-width="0.2">Sb</text>
<circle cx="257.60" cy="231.82" r="9.9" fill="#fff" stroke="#000" stroke-width="0.85"/>
<text x="257.60" y="235.02" font-size="9.3" font-weight="normal" text-anchor="middle" stroke="#000" stroke-width="0.2">Cr</text>
<circle cx="278.40" cy="225.97" r="11.7" fill="#ffff00" stroke="#000" stroke-width="0.9"/>
<text x="278.40" y="230.17" font-size="12.4" font-weight="bold" text-anchor="middle" stroke="#000" stroke-width="0.3">Sb</text>
<rect x="340.40" y="222.20" width="50.80" height="19.80" fill="#fff" stroke="#222" stroke-width="0.9"/>
<rect x="391.20" y="222.20" width="20.90" height="19.80" fill="#fff" stroke="#222" stroke-width="0.9"/>
<text x="365.80" y="236.20" font-size="9.3" font-weight="normal" text-anchor="middle" stroke="#000" stroke-width="0.2">GaSb</text>
<text x="401.95" y="236.20" font-size="9.3" font-weight="normal" text-anchor="middle" stroke="#000" stroke-width="0.2">Ga</text>
<circle cx="422.30" cy="227.60" r="9.9" fill="#fff" stroke="#000" stroke-width="0.85"/>
<text x="422.30" y="230.80" font-size="9.3" font-weight="normal" text-anchor="middle" stroke="#000" stroke-width="0.2">Sb</text>
<circle cx="443.10" cy="232.94" r="9.9" fill="#fff" stroke="#000" stroke-width="0.85"/>
<text x="443.10" y="236.14" font-size="9.3" font-weight="normal" text-anchor="middle" stroke="#000" stroke-width="0.2">Cr</text>
<circle cx="463.90" cy="227.46" r="9.9" fill="#fff" stroke="#000" stroke-width="0.85"/>
<text x="463.90" y="230.66" font-size="9.3" font-weight="normal" text-anchor="middle" stroke="#000" stroke-width="0.2">Sb</text>
<circle cx="484.70" cy="232.62" r="9.9" fill="#fff" stroke="#000" stroke-width="0.85"/>
<text x="484.70" y="235.82" font-size="9.3" font-weight="normal" text-anchor="middle" stroke="#000" stroke-width="0.2">Cr</text>
<circle cx="505.50" cy="227.32" r="9.9" fill="#fff" stroke="#000" stroke-width="0.85"/>
<text x="505.50" y="230.52" font-size="9.3" font-weight="normal" text-anchor="middle" stroke="#000" stroke-width="0.2">Sb</text>
<circle cx="526.30" cy="232.30" r="9.9" fill="#fff" stroke="#000" stroke-width="0.85"/>
<text x="526.30" y="235.50" font-size="9.3" font-weight="normal" text-anchor="middle" stroke="#000" stroke-width="0.2">Cr</text>
<circle cx="547.10" cy="227.18" r="9.9" fill="#fff" stroke="#000" stroke-width="0.85"/>
<text x="547.10" y="230.38" font-size="9.3" font-weight="normal" text-anchor="middle" stroke="#000" stroke-width="0.2">Sb</text>
<circle cx="567.90" cy="231.98" r="9.9" fill="#fff" stroke="#000" stroke-width="0.85"/>
<text x="567.90" y="235.18" font-size="9.3" font-weight="normal" text-anchor="middle" stroke="#000" stroke-width="0.2">Cr</text>
<circle cx="589.00" cy="225.34" r="11.7" fill="#ffff00" stroke="#000" stroke-width="0.9"/>
<text x="589.00" y="229.54" font-size="12.4" font-weight="bold" text-anchor="middle" stroke="#000" stroke-width="0.3">Sb</text>
<circle cx="610.20" cy="231.66" r="9.9" fill="#fff" stroke="#000" stroke-width="0.85"/>
<text x="610.20" y="234.86" font-size="9.3" font-weight="normal" text-anchor="middle" stroke="#000" stroke-width="0.2">Cr</text>
<text x="77.80" y="62.30" font-size="17.0" font-weight="bold" textLength="62.10" lengthAdjust="spacingAndGlyphs" xml:space="preserve" stroke="#000" stroke-width="0.3">Surface</text>
<text x="381.10" y="62.30" font-size="17.0" font-weight="bold" textLength="62.10" lengthAdjust="spacingAndGlyphs" xml:space="preserve" stroke="#000" stroke-width="0.3">Surface</text>
<text x="53.90" y="274.80" font-size="17.0" font-weight="bold" textLength="61.90" lengthAdjust="spacingAndGlyphs" xml:space="preserve" stroke="#000" stroke-width="0.3">Surface</text>
<text x="374.70" y="275.10" font-size="17.0" font-weight="bold" textLength="63.60" lengthAdjust="spacingAndGlyphs" xml:space="preserve" stroke="#000" stroke-width="0.3">Surface</text>
<text x="175.50" y="49.00" font-size="14.4" font-weight="bold" textLength="9.30" lengthAdjust="spacingAndGlyphs" xml:space="preserve" stroke="#000" stroke-width="0.3">E</text>
<text x="185.10" y="54.40" font-size="11.0" font-weight="bold" textLength="6.60" lengthAdjust="spacingAndGlyphs" xml:space="preserve" stroke="#000" stroke-width="0.3">F</text>
<text x="499.20" y="49.40" font-size="14.4" font-weight="bold" textLength="9.30" lengthAdjust="spacingAndGlyphs" xml:space="preserve" stroke="#000" stroke-width="0.3">E</text>
<text x="508.80" y="54.80" font-size="11.0" font-weight="bold" textLength="6.60" lengthAdjust="spacingAndGlyphs" xml:space="preserve" stroke="#000" stroke-width="0.3">F</text>
<text x="173.90" y="264.10" font-size="14.4" font-weight="bold" textLength="9.30" lengthAdjust="spacingAndGlyphs" xml:space="preserve" stroke="#000" stroke-width="0.3">E</text>
<text x="183.50" y="269.50" font-size="11.0" font-weight="bold" textLength="6.60" lengthAdjust="spacingAndGlyphs" xml:space="preserve" stroke="#000" stroke-width="0.3">F</text>
<text x="497.70" y="264.10" font-size="14.4" font-weight="bold" textLength="9.30" lengthAdjust="spacingAndGlyphs" xml:space="preserve" stroke="#000" stroke-width="0.3">E</text>
<text x="507.30" y="269.50" font-size="11.0" font-weight="bold" textLength="6.60" lengthAdjust="spacingAndGlyphs" xml:space="preserve" stroke="#000" stroke-width="0.3">F</text>
<text x="280.50" y="52.40" font-size="17.0" font-weight="bold" textLength="8.70" lengthAdjust="spacingAndGlyphs" xml:space="preserve" stroke="#000" stroke-width="0.3">a</text>
<text x="605.20" y="56.30" font-size="17.0" font-weight="bold" textLength="9.30" lengthAdjust="spacingAndGlyphs" xml:space="preserve" stroke="#000" stroke-width="0.3">b</text>
<text x="280.20" y="270.90" font-size="17.0" font-weight="bold" textLength="8.30" lengthAdjust="spacingAndGlyphs" xml:space="preserve" stroke="#000" stroke-width="0.3">c</text>
<text x="602.00" y="272.90" font-size="17.0" font-weight="bold" textLength="9.90" lengthAdjust="spacingAndGlyphs" xml:space="preserve" stroke="#000" stroke-width="0.3">d</text>
<line x1="105.30" y1="72.20" x2="105.30" y2="87.50" stroke="#0000ff" stroke-width="1.7"/>
<path d="M102.50 85.10 L105.30 90.50 L108.10 85.10 Z" fill="#0000ff"/>
<line x1="105.00" y1="137.80" x2="105.00" y2="123.60" stroke="#ff0000" stroke-width="1.7"/>
<path d="M102.20 126.00 L105.00 120.60 L107.80 126.00 Z" fill="#ff0000"/>
<line x1="449.00" y1="67.90" x2="449.00" y2="83.10" stroke="#0000ff" stroke-width="1.7"/>
<path d="M446.20 80.70 L449.00 86.10 L451.80 80.70 Z" fill="#0000ff"/>
<line x1="449.80" y1="140.50" x2="449.80" y2="125.00" stroke="#ff0000" stroke-width="1.7"/>
<path d="M447.00 127.40 L449.80 122.00 L452.60 127.40 Z" fill="#ff0000"/>
<line x1="96.20" y1="288.00" x2="96.20" y2="302.70" stroke="#0000ff" stroke-width="1.7"/>
<path d="M93.40 300.30 L96.20 305.70 L99.00 300.30 Z" fill="#0000ff"/>
<line x1="94.70" y1="350.40" x2="94.70" y2="334.90" stroke="#ff0000" stroke-width="1.7"/>
<path d="M91.90 337.30 L94.70 331.90 L97.50 337.30 Z" fill="#ff0000"/>
<line x1="524.70" y1="275.70" x2="524.70" y2="291.10" stroke="#0000ff" stroke-width="1.7"/>
<path d="M521.90 288.70 L524.70 294.10 L527.50 288.70 Z" fill="#0000ff"/>
<line x1="524.10" y1="359.20" x2="524.10" y2="344.00" stroke="#ff0000" stroke-width="1.7"/>
<path d="M521.30 346.40 L524.10 341.00 L526.90 346.40 Z" fill="#ff0000"/>
<line x1="203.40" y1="135.60" x2="219.00" y2="135.60" stroke="#0000ff" stroke-width="1.8"/>
<text x="224.70" y="140.30" font-size="14.6" font-weight="bold" textLength="61.90" lengthAdjust="spacingAndGlyphs" xml:space="preserve" stroke="#000" stroke-width="0.3">Cr(GaSb)</text>
<line x1="203.40" y1="150.40" x2="219.00" y2="150.40" stroke="#0000ff" stroke-width="0.75"/>
<text x="224.70" y="155.00" font-size="14.6" font-weight="bold" textLength="62.50" lengthAdjust="spacingAndGlyphs" xml:space="preserve" stroke="#000" stroke-width="0.3">Cr(GaAs)</text>
<line x1="557.60" y1="134.80" x2="572.90" y2="134.80" stroke="#0000ff" stroke-width="1.3"/>
<text x="581.30" y="140.20" font-size="15.2" font-weight="bold" textLength="17.90" lengthAdjust="spacingAndGlyphs" xml:space="preserve" stroke="#000" stroke-width="0.3">Cr</text>
<line x1="202.20" y1="350.10" x2="216.70" y2="350.10" stroke="#0000ff" stroke-width="1.7"/>
<text x="225.80" y="354.40" font-size="13.4" font-weight="bold" textLength="15.20" lengthAdjust="spacingAndGlyphs" xml:space="preserve" stroke="#000" stroke-width="0.3">Sb</text>
<text transform="translate(250.60,354.00) scale(1.0,1)" font-size="12.5" font-weight="bold" text-anchor="middle" stroke="#000" stroke-width="0.3">(</text>
<text x="255.80" y="354.40" font-size="13.4" font-weight="bold" textLength="31.40" lengthAdjust="spacingAndGlyphs" xml:space="preserve" stroke="#000" stroke-width="0.3">GaSb</text>
<text transform="translate(290.00,354.00) scale(1.0,1)" font-size="12.5" font-weight="bold" text-anchor="middle" stroke="#000" stroke-width="0.3">)</text>
<line x1="202.20" y1="364.60" x2="216.70" y2="364.60" stroke="#a6a6ff" stroke-width="1.8"/>
<text x="225.80" y="369.20" font-size="13.4" font-weight="bold" textLength="15.20" lengthAdjust="spacingAndGlyphs" xml:space="preserve" stroke="#000" stroke-width="0.3">Sb</text>
<text transform="translate(250.60,368.80) scale(1.0,1)" font-size="12.5" font-weight="bold" text-anchor="middle" stroke="#000" stroke-width="0.3">(</text>
<text x="255.80" y="369.20" font-size="13.4" font-weight="bold" textLength="31.40" lengthAdjust="spacingAndGlyphs" xml:space="preserve" stroke="#000" stroke-width="0.3">GaAs</text>
<text transform="translate(290.00,368.80) scale(1.0,1)" font-size="12.5" font-weight="bold" text-anchor="middle" stroke="#000" stroke-width="0.3">)</text>
<line x1="551.80" y1="349.30" x2="566.50" y2="349.30" stroke="#0000ff" stroke-width="1.3"/>
<text x="575.80" y="354.60" font-size="15.2" font-weight="bold" textLength="15.30" lengthAdjust="spacingAndGlyphs" xml:space="preserve" stroke="#000" stroke-width="0.3">Sb</text>
</svg>
</body></html>
